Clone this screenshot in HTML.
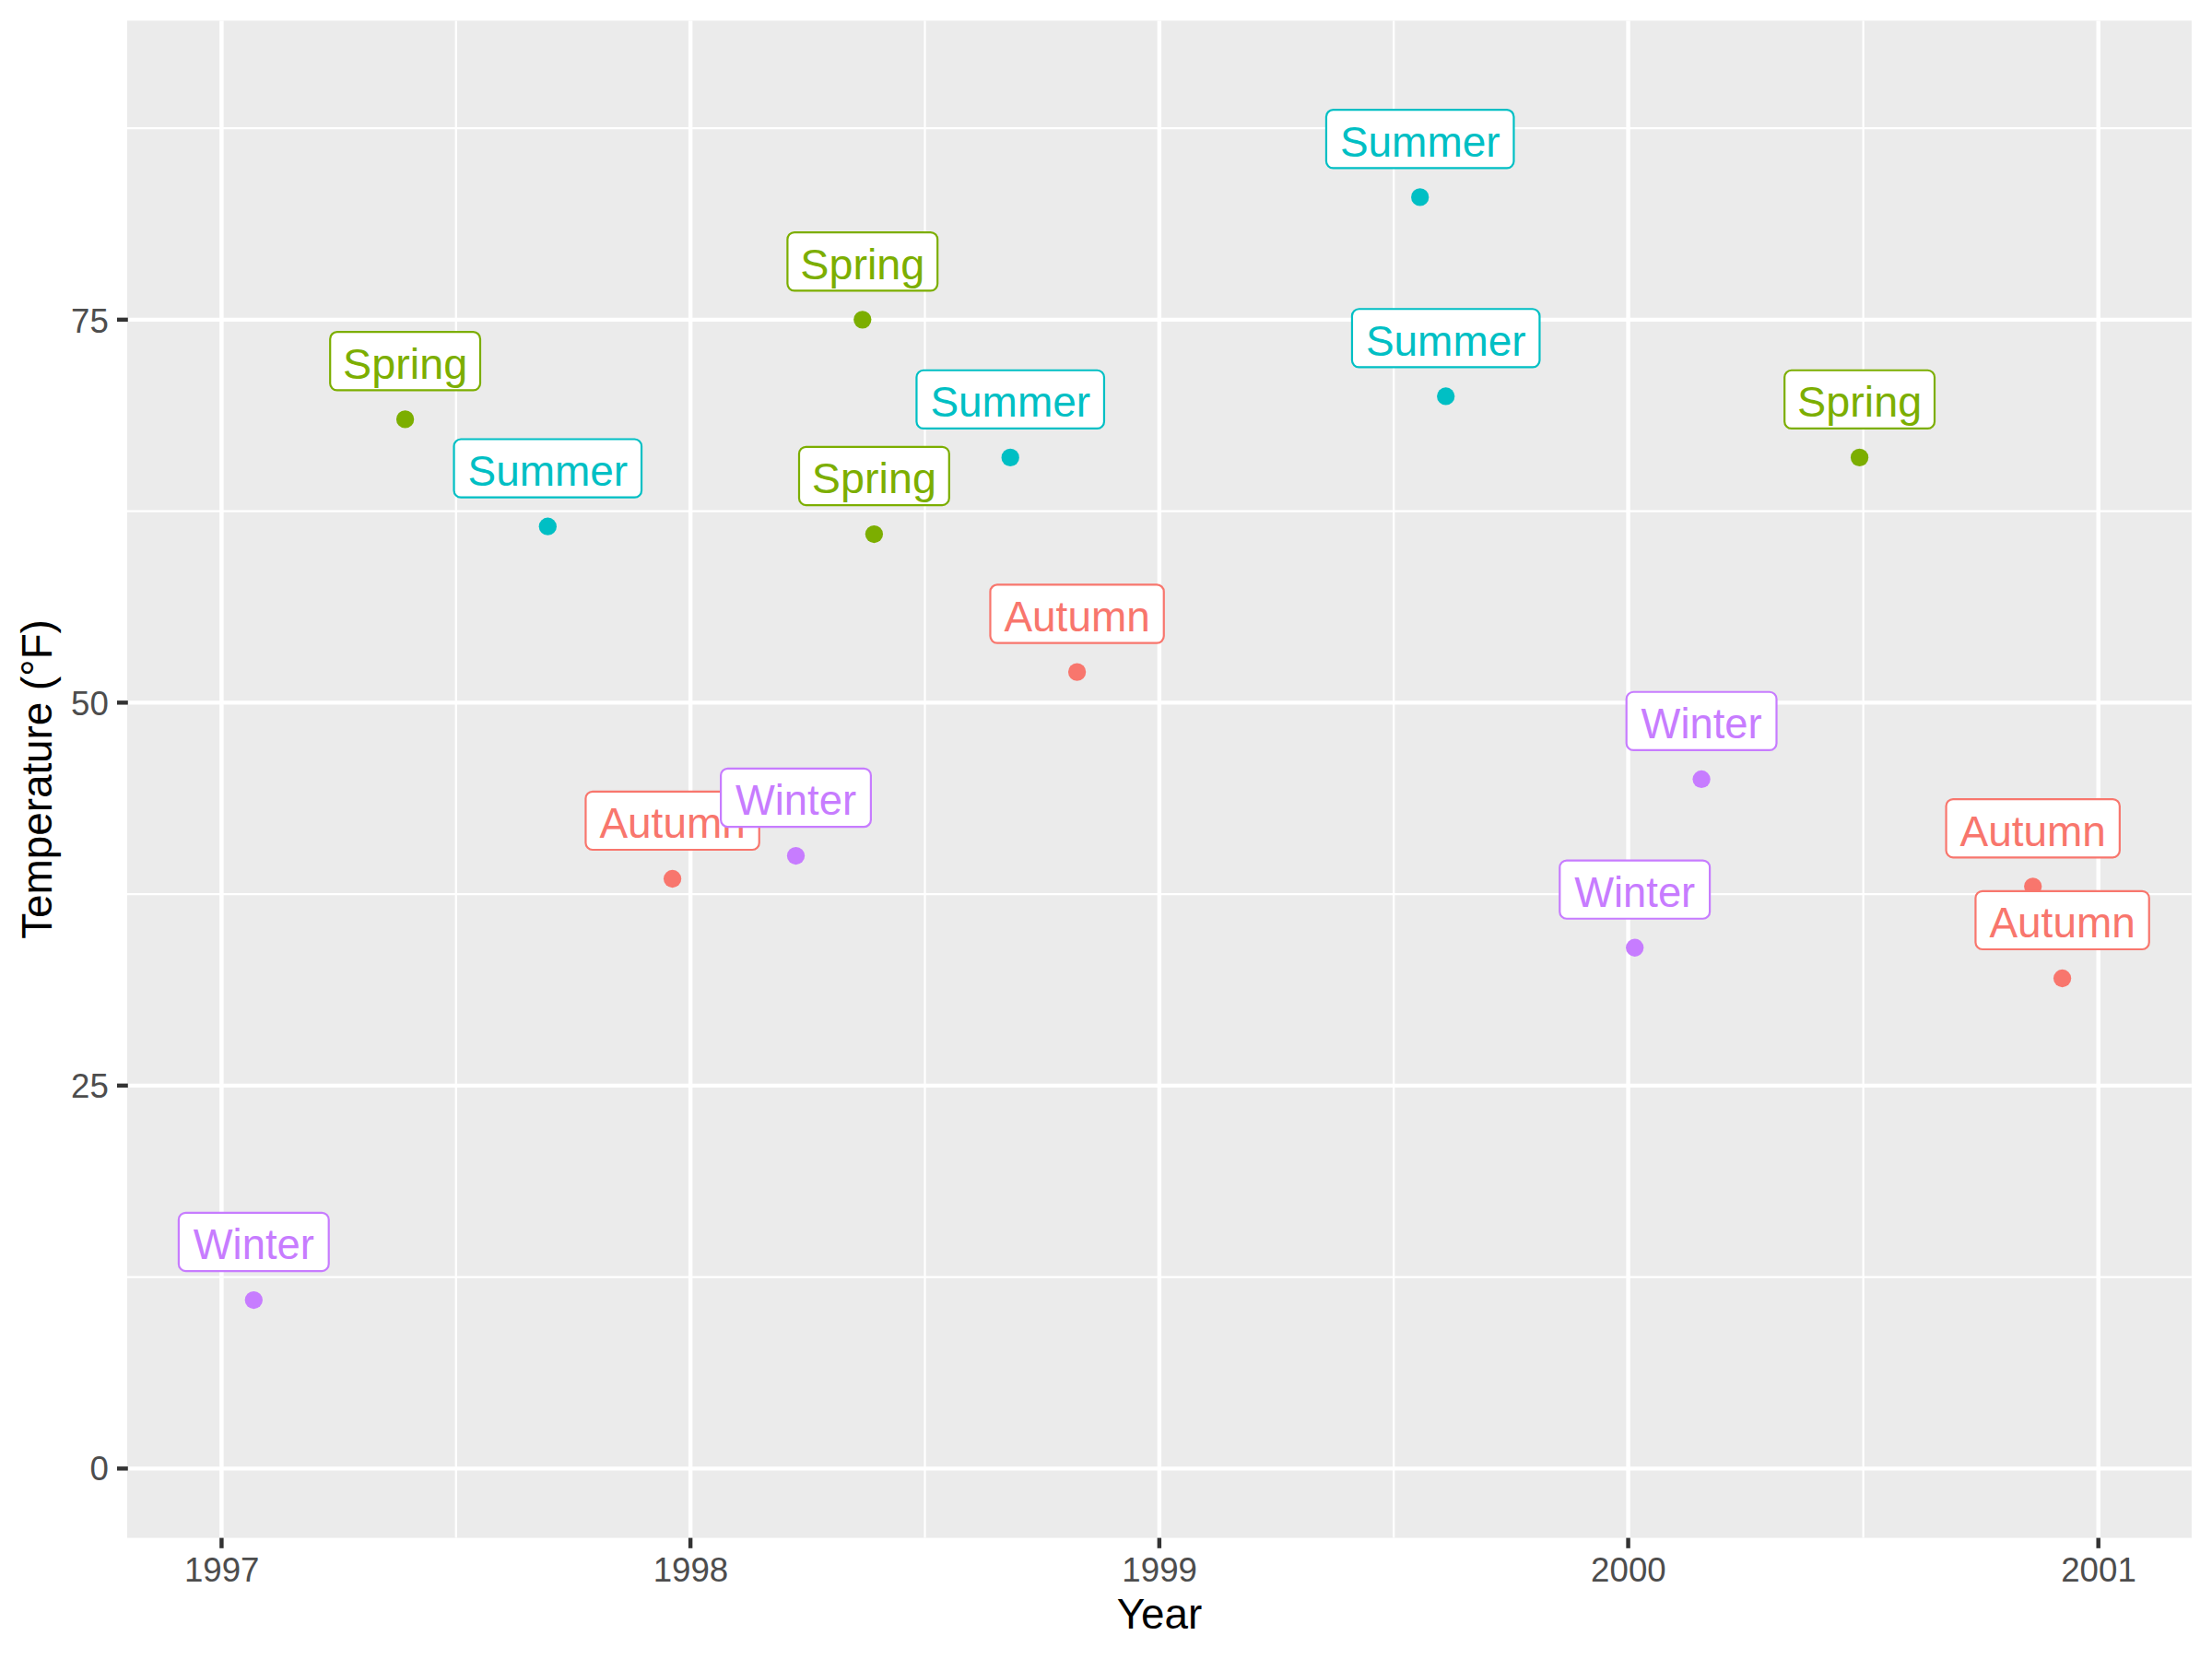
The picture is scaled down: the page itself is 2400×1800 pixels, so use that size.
<!DOCTYPE html>
<html lang="en"><head><meta charset="utf-8"><title>Temperature by Year</title>
<style>html,body{margin:0;padding:0;background:#fff}svg{display:block}text{font-family:"Liberation Sans",Arial,Helvetica,sans-serif}.tk{font-size:36.67px;fill:#4D4D4D}.ti{font-size:45.83px;fill:#000}.lb{font-size:45.83px;text-anchor:middle}</style></head><body>
<svg width="2400" height="1800" viewBox="0 0 2400 1800">
<rect width="2400" height="1800" fill="#fff"/>
<rect x="138.0" y="22.4" width="2239.90" height="1646.20" fill="#EBEBEB"/>
<g stroke="#fff" stroke-width="2.22" fill="none">
<line x1="138.0" x2="2377.9" y1="1385.60" y2="1385.60"/>
<line x1="138.0" x2="2377.9" y1="970.10" y2="970.10"/>
<line x1="138.0" x2="2377.9" y1="554.60" y2="554.60"/>
<line x1="138.0" x2="2377.9" y1="139.10" y2="139.10"/>
<line y1="22.4" y2="1668.6" x1="494.76" x2="494.76"/>
<line y1="22.4" y2="1668.6" x1="1003.49" x2="1003.49"/>
<line y1="22.4" y2="1668.6" x1="1512.22" x2="1512.22"/>
<line y1="22.4" y2="1668.6" x1="2021.64" x2="2021.64"/>
</g>
<g stroke="#fff" stroke-width="4.45" fill="none">
<line x1="138.0" x2="2377.9" y1="1593.35" y2="1593.35"/>
<line x1="138.0" x2="2377.9" y1="1177.85" y2="1177.85"/>
<line x1="138.0" x2="2377.9" y1="762.35" y2="762.35"/>
<line x1="138.0" x2="2377.9" y1="346.85" y2="346.85"/>
<line y1="22.4" y2="1668.6" x1="240.40" x2="240.40"/>
<line y1="22.4" y2="1668.6" x1="749.13" x2="749.13"/>
<line y1="22.4" y2="1668.6" x1="1257.85" x2="1257.85"/>
<line y1="22.4" y2="1668.6" x1="1766.58" x2="1766.58"/>
<line y1="22.4" y2="1668.6" x1="2276.70" x2="2276.70"/>
</g>
<g>
<circle cx="275.30" cy="1410.53" r="9.65" fill="#C77CFF"/>
<circle cx="439.60" cy="454.88" r="9.65" fill="#7CAE00"/>
<circle cx="594.30" cy="571.22" r="9.65" fill="#00BFC4"/>
<circle cx="729.60" cy="953.48" r="9.65" fill="#F8766D"/>
<circle cx="863.50" cy="928.55" r="9.65" fill="#C77CFF"/>
<circle cx="935.80" cy="346.85" r="9.65" fill="#7CAE00"/>
<circle cx="948.40" cy="579.53" r="9.65" fill="#7CAE00"/>
<circle cx="1096.20" cy="496.43" r="9.65" fill="#00BFC4"/>
<circle cx="1168.60" cy="729.11" r="9.65" fill="#F8766D"/>
<circle cx="1540.70" cy="213.89" r="9.65" fill="#00BFC4"/>
<circle cx="1568.70" cy="429.95" r="9.65" fill="#00BFC4"/>
<circle cx="1773.70" cy="1028.27" r="9.65" fill="#C77CFF"/>
<circle cx="1846.10" cy="845.45" r="9.65" fill="#C77CFF"/>
<circle cx="2017.60" cy="496.43" r="9.65" fill="#7CAE00"/>
<circle cx="2205.70" cy="961.79" r="9.65" fill="#F8766D"/>
<circle cx="2237.60" cy="1061.51" r="9.65" fill="#F8766D"/>
</g>
<g>
<rect x="193.90" y="1315.83" width="162.80" height="63.2" rx="7.5" ry="7.5" fill="#fff" stroke="#C77CFF" stroke-width="2.2"/><text class="lb" transform="translate(275.30,1366) scale(0.99,1.025)" fill="#C77CFF">Winter</text>
<rect x="358.20" y="360.18" width="162.80" height="63.2" rx="7.5" ry="7.5" fill="#fff" stroke="#7CAE00" stroke-width="2.2"/><text class="lb" transform="translate(439.60,411) scale(1.02,1.025)" fill="#7CAE00">Spring</text>
<rect x="492.55" y="476.52" width="203.50" height="63.2" rx="7.5" ry="7.5" fill="#fff" stroke="#00BFC4" stroke-width="2.2"/><text class="lb" transform="translate(594.30,527) scale(1.003,1.025)" fill="#00BFC4">Summer</text>
<rect x="635.45" y="858.78" width="188.30" height="63.2" rx="7.5" ry="7.5" fill="#fff" stroke="#F8766D" stroke-width="2.2"/><text class="lb" transform="translate(729.60,909) scale(1.003,1.025)" fill="#F8766D">Autumn</text>
<rect x="782.10" y="833.85" width="162.80" height="63.2" rx="7.5" ry="7.5" fill="#fff" stroke="#C77CFF" stroke-width="2.2"/><text class="lb" transform="translate(863.50,884) scale(0.99,1.025)" fill="#C77CFF">Winter</text>
<rect x="854.40" y="252.15" width="162.80" height="63.2" rx="7.5" ry="7.5" fill="#fff" stroke="#7CAE00" stroke-width="2.2"/><text class="lb" transform="translate(935.80,303) scale(1.02,1.025)" fill="#7CAE00">Spring</text>
<rect x="867.00" y="484.83" width="162.80" height="63.2" rx="7.5" ry="7.5" fill="#fff" stroke="#7CAE00" stroke-width="2.2"/><text class="lb" transform="translate(948.40,535) scale(1.02,1.025)" fill="#7CAE00">Spring</text>
<rect x="994.45" y="401.73" width="203.50" height="63.2" rx="7.5" ry="7.5" fill="#fff" stroke="#00BFC4" stroke-width="2.2"/><text class="lb" transform="translate(1096.20,452) scale(1.003,1.025)" fill="#00BFC4">Summer</text>
<rect x="1074.45" y="634.41" width="188.30" height="63.2" rx="7.5" ry="7.5" fill="#fff" stroke="#F8766D" stroke-width="2.2"/><text class="lb" transform="translate(1168.60,685) scale(1.003,1.025)" fill="#F8766D">Autumn</text>
<rect x="1438.95" y="119.19" width="203.50" height="63.2" rx="7.5" ry="7.5" fill="#fff" stroke="#00BFC4" stroke-width="2.2"/><text class="lb" transform="translate(1540.70,170) scale(1.003,1.025)" fill="#00BFC4">Summer</text>
<rect x="1466.95" y="335.25" width="203.50" height="63.2" rx="7.5" ry="7.5" fill="#fff" stroke="#00BFC4" stroke-width="2.2"/><text class="lb" transform="translate(1568.70,386) scale(1.003,1.025)" fill="#00BFC4">Summer</text>
<rect x="1692.30" y="933.57" width="162.80" height="63.2" rx="7.5" ry="7.5" fill="#fff" stroke="#C77CFF" stroke-width="2.2"/><text class="lb" transform="translate(1773.70,984) scale(0.99,1.025)" fill="#C77CFF">Winter</text>
<rect x="1764.70" y="750.75" width="162.80" height="63.2" rx="7.5" ry="7.5" fill="#fff" stroke="#C77CFF" stroke-width="2.2"/><text class="lb" transform="translate(1846.10,801) scale(0.99,1.025)" fill="#C77CFF">Winter</text>
<rect x="1936.20" y="401.73" width="162.80" height="63.2" rx="7.5" ry="7.5" fill="#fff" stroke="#7CAE00" stroke-width="2.2"/><text class="lb" transform="translate(2017.60,452) scale(1.02,1.025)" fill="#7CAE00">Spring</text>
<rect x="2111.55" y="867.09" width="188.30" height="63.2" rx="7.5" ry="7.5" fill="#fff" stroke="#F8766D" stroke-width="2.2"/><text class="lb" transform="translate(2205.70,918) scale(1.003,1.025)" fill="#F8766D">Autumn</text>
<rect x="2143.45" y="966.81" width="188.30" height="63.2" rx="7.5" ry="7.5" fill="#fff" stroke="#F8766D" stroke-width="2.2"/><text class="lb" transform="translate(2237.60,1017) scale(1.003,1.025)" fill="#F8766D">Autumn</text>
</g>
<g stroke="#333333" stroke-width="4.45" fill="none">
<line x1="127.00" x2="138.80" y1="1593.35" y2="1593.35"/>
<line x1="127.00" x2="138.80" y1="1177.85" y2="1177.85"/>
<line x1="127.00" x2="138.80" y1="762.35" y2="762.35"/>
<line x1="127.00" x2="138.80" y1="346.85" y2="346.85"/>
<line y1="1668.6" y2="1679.80" x1="240.40" x2="240.40"/>
<line y1="1668.6" y2="1679.80" x1="749.13" x2="749.13"/>
<line y1="1668.6" y2="1679.80" x1="1257.85" x2="1257.85"/>
<line y1="1668.6" y2="1679.80" x1="1766.58" x2="1766.58"/>
<line y1="1668.6" y2="1679.80" x1="2276.70" x2="2276.70"/>
</g>
<text class="tk" text-anchor="end" transform="translate(117.9,1606.35) scale(1.0,1.025)">0</text>
<text class="tk" text-anchor="end" transform="translate(117.9,1191.15) scale(1.0,1.025)">25</text>
<text class="tk" text-anchor="end" transform="translate(117.9,775.55) scale(1.0,1.025)">50</text>
<text class="tk" text-anchor="end" transform="translate(117.9,360.95) scale(1.0,1.025)">75</text>
<text class="tk" text-anchor="middle" transform="translate(240.70,1715.5) scale(1.0,1.025)">1997</text>
<text class="tk" text-anchor="middle" transform="translate(749.43,1715.5) scale(1.0,1.025)">1998</text>
<text class="tk" text-anchor="middle" transform="translate(1258.15,1715.5) scale(1.0,1.025)">1999</text>
<text class="tk" text-anchor="middle" transform="translate(1766.88,1715.5) scale(1.0,1.025)">2000</text>
<text class="tk" text-anchor="middle" transform="translate(2277.00,1715.5) scale(1.0,1.025)">2001</text>
<text class="ti" text-anchor="middle" transform="translate(1257.95,1767.2) scale(1.0,1.025)">Year</text>
<text class="ti" text-anchor="middle" transform="translate(56.2,845.50) rotate(-90) scale(1.0,1.025)">Temperature (°F)</text>
</svg></body></html>
